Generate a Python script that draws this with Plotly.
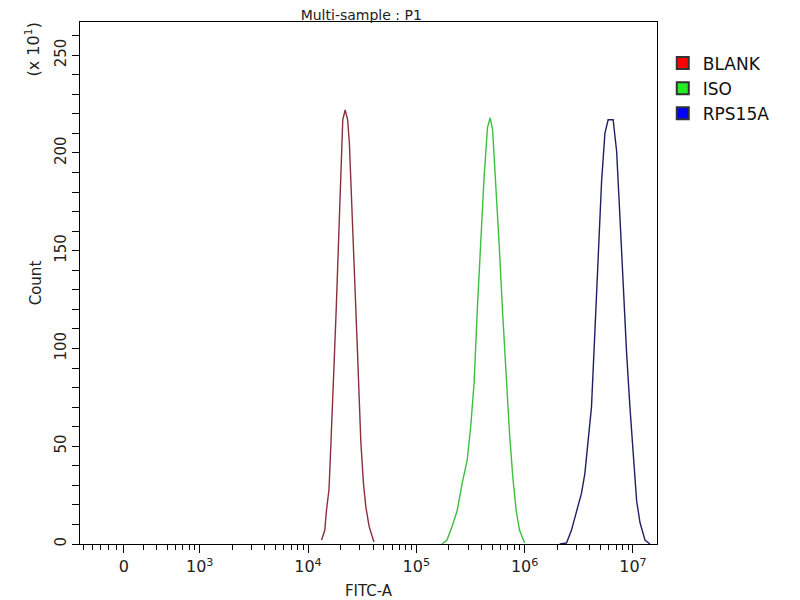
import plotly.graph_objects as go

# FITC-A channel positions (log10 of intensity) and counts (x 10^1)
blank_log = [4.125, 4.155, 4.170, 4.194, 4.209, 4.225, 4.245, 4.261, 4.275, 4.291, 4.306, 4.321,
             4.343, 4.366, 4.382, 4.397, 4.412, 4.427, 4.443, 4.457, 4.473, 4.488, 4.512, 4.534,
             4.564, 4.594, 4.609]
blank_cnt = [2, 7, 17, 28, 48, 74, 98, 121, 145, 166, 193, 217,
             222, 217, 205, 185, 166, 145, 121, 98, 74, 52, 31, 19,
             9, 4, 1]

iso_log = [5.237, 5.283, 5.330, 5.377, 5.423, 5.470, 5.502, 5.533, 5.564, 5.595, 5.626, 5.657,
           5.682, 5.704, 5.736, 5.766, 5.797, 5.829, 5.860, 5.891, 5.922, 5.953, 6.000]
iso_cnt = [0, 2, 9, 17, 31, 43, 60, 82, 121, 155, 188, 213,
           218, 212, 183, 152, 118, 85, 57, 34, 17, 7, 0.5]

rps_log = [6.324, 6.386, 6.432, 6.479, 6.525, 6.556, 6.586, 6.617, 6.648, 6.679, 6.710, 6.741,
           6.771, 6.817, 6.849, 6.880, 6.910, 6.941, 6.972, 7.003, 7.034, 7.065, 7.111, 7.157]
rps_cnt = [0, 0.5, 7, 16, 26, 36, 52, 70, 108, 147, 185, 210,
           217, 217, 201, 167, 131, 98, 70, 43, 22, 11, 2, 0]

names = ["BLANK", "ISO", "RPS15A"]
line_colors = ["#8a2f3c", "#3cbf3c", "#1f1f63"]
legend_colors = ["#ff0000", "#22ee22", "#0000ff"]

x_tick_vals = [10 ** 2.3, 1e3, 1e4, 1e5, 1e6, 1e7]
x_tick_text = ["0", "10<sup>3</sup>", "10<sup>4</sup>", "10<sup>5</sup>",
               "10<sup>6</sup>", "10<sup>7</sup>"]

# minor ticks: a few in the linear part below zero, then 2..9 of each decade
minor_vals = [10 ** v for v in [1.93, 2.01, 2.08, 2.16, 2.23]]
for k in range(2, 7):
    minor_vals += [m * 10 ** k for m in range(2, 10)]

fig = go.Figure()

series = [(blank_log, blank_cnt), (iso_log, iso_cnt), (rps_log, rps_cnt)]
for (lx, cnt), col in zip(series, line_colors):
    fig.add_trace(go.Scatter(
        x=[10 ** v for v in lx], y=cnt, mode="lines",
        line=dict(color=col, width=1.4),
        showlegend=False, hoverinfo="skip"
    ))

# square legend swatches
for name, col in zip(names, legend_colors):
    fig.add_trace(go.Scatter(
        x=[None], y=[None], mode="markers", name=name,
        marker=dict(symbol="square", size=16, color=col,
                    line=dict(color="#333333", width=1))
    ))

font = "DejaVu Sans, Liberation Sans, sans-serif"

# page body has an 8px margin, so the figure is a bit smaller than the window
fig.update_layout(
    width=792, height=592,
    margin=dict(l=72, r=143, t=14, b=56),
    paper_bgcolor="white", plot_bgcolor="white",
    font=dict(family=font, size=15, color="#222222"),
    title=dict(text="Multi-sample : P1", x=0.446, xanchor="center",
               yref="container", y=0.997, yanchor="top",
               pad=dict(t=0, b=0), font=dict(size=14)),
    legend=dict(x=1.01, y=0.955, xanchor="left", yanchor="top",
                font=dict(size=17, color="#111111"), tracegroupgap=0,
                itemsizing="constant", bgcolor="rgba(0,0,0,0)"),
    xaxis=dict(
        type="log", range=[1.895, 7.222], automargin=False,
        tickvals=x_tick_vals, ticktext=x_tick_text,
        ticks="outside", ticklen=8, tickwidth=1, tickcolor="black",
        minor=dict(tickvals=minor_vals, ticks="outside", ticklen=5,
                   tickwidth=1, tickcolor="black", showgrid=False),
        showline=True, linecolor="black", linewidth=1.3, mirror=True,
        showgrid=False, zeroline=False,
        tickfont=dict(size=16),
        title=dict(text="FITC-A", standoff=10, font=dict(size=15))
    ),
    yaxis=dict(
        range=[0, 267], tickvals=[0, 50, 100, 150, 200, 250],
        ticks="outside", ticklen=7, tickwidth=1, tickcolor="black",
        minor=dict(dtick=10, ticks="outside", ticklen=7, tickwidth=1,
                   tickcolor="black", showgrid=False),
        tickangle=-90, tickfont=dict(size=15),
        showline=True, linecolor="black", linewidth=1.3, mirror=True,
        showgrid=False, zeroline=False,
        title=dict(text="Count", standoff=6, font=dict(size=15))
    ),
    annotations=[dict(
        text="(x 10<sup>1</sup>)", textangle=-90, showarrow=False,
        xref="paper", yref="paper", x=-0.082, y=1.005,
        xanchor="center", yanchor="top", font=dict(size=16)
    )]
)

fig.write_html("out.html")
